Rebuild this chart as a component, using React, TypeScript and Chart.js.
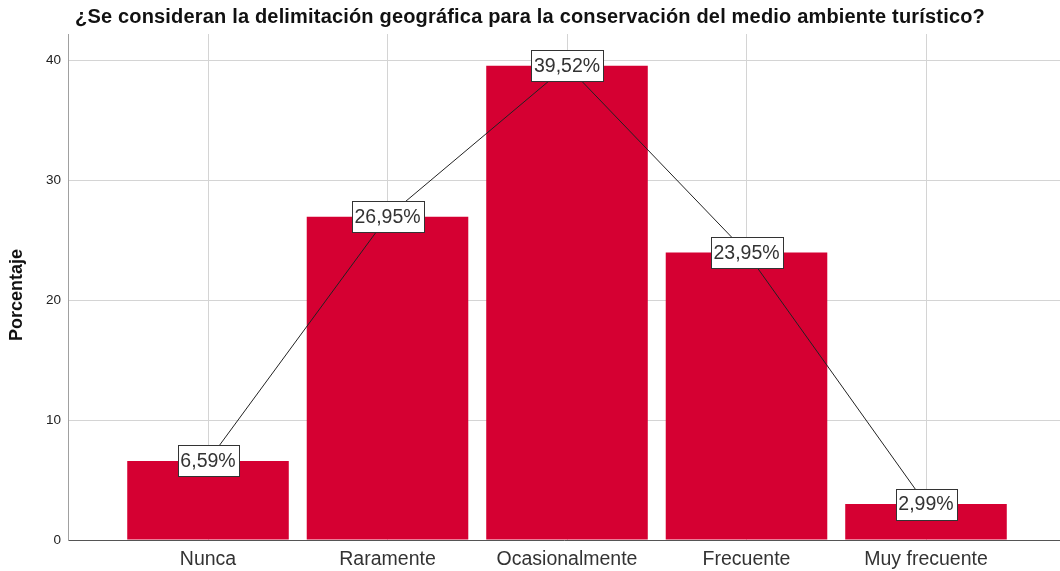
import React, { useEffect, useRef } from "react";
import { Chart, registerables } from "chart.js";

Chart.register(...registerables);

const titleText = "¿Se consideran la delimitación geográfica para la conservación del medio ambiente turístico?";
const yTitle = "Porcentaje";
const categories = ["Nunca", "Raramente", "Ocasionalmente", "Frecuente", "Muy frecuente"];
const percentages = [6.59, 26.95, 39.52, 23.95, 2.99];
const pctLabels = ["6,59%", "26,95%", "39,52%", "23,95%", "2,99%"];
const yTicks = [0, 10, 20, 30, 40];

const FONT = "'Liberation Sans', Arial, sans-serif";

export default function App() {
  const ref = useRef<HTMLCanvasElement | null>(null);
  useEffect(() => {
    document.body.style.margin = "0";
    const canvas = ref.current!;
    const points = percentages.map((v, i) => ({ x: i, y: v }));
    const overlay = {
      id: "overlay",
      afterDatasetsDraw(chart: any) {
        const ctx = chart.ctx;
        const xs = chart.scales.x;
        const ys = chart.scales.y;
        ctx.save();
        ctx.font = `19.5px ${FONT}`;
        ctx.textAlign = "center";
        ctx.textBaseline = "middle";
        percentages.forEach((v, i) => {
          const px = xs.getPixelForValue(i);
          const py = ys.getPixelForValue(v);
          const w = Math.round(ctx.measureText(pctLabels[i]).width + 6);
          const h = 31;
          const bx = Math.round(px - w / 2) + 0.5;
          const by = Math.round(py - h / 2) + 0.5;
          ctx.fillStyle = "#ffffff";
          ctx.fillRect(bx, by, w, h);
          ctx.strokeStyle = "#333333";
          ctx.lineWidth = 1;
          ctx.strokeRect(bx, by, w, h);
          ctx.fillStyle = "#333333";
          ctx.fillText(pctLabels[i], px, py + 1);
        });
        ctx.restore();
      },
      afterDraw(chart: any) {
        const ctx = chart.ctx;
        ctx.save();
        ctx.fillStyle = "#111111";
        ctx.font = `bold 20px ${FONT}`;
        ctx.textAlign = "left";
        ctx.textBaseline = "middle";
        const natural = ctx.measureText(titleText).width;
        const target = 910;
        (ctx as any).letterSpacing = `${Math.max(0, (target - natural) / titleText.length)}px`;
        ctx.fillText(titleText, 75, 17);
        (ctx as any).letterSpacing = "0px";
        ctx.translate(17, 295);
        ctx.rotate(-Math.PI / 2);
        ctx.textAlign = "center";
        ctx.font = `bold 18px ${FONT}`;
        ctx.fillText(yTitle, 0, 0);
        ctx.restore();
      },
    };
    const chart = new Chart(canvas, {
      type: "bar",
      data: {
        datasets: [
          {
            type: "line",
            data: points,
            borderColor: "#222222",
            borderWidth: 1,
            pointRadius: 0,
            fill: false,
            order: 0,
          } as any,
          {
            type: "bar",
            data: points,
            backgroundColor: "#D50032",
            barPercentage: 0.9,
            categoryPercentage: 1,
            order: 1,
          } as any,
        ],
      },
      options: {
        animation: false,
        responsive: false,
        layout: { padding: { top: 34, left: 0, right: 0, bottom: 0 } },
        plugins: { legend: { display: false }, tooltip: { enabled: false } },
        scales: {
          x: {
            type: "linear",
            offset: false,
            min: -0.78,
            max: 4.7465,
            afterBuildTicks: (s: any) => {
              s.ticks = categories.map((_, i) => ({ value: i }));
            },
            afterFit: (s: any) => {
              s.height = 31;
            },
            ticks: {
              callback: (v: any) => categories[v as number] ?? "",
              font: { family: FONT, size: 19.5 },
              color: "#333333",
              padding: 8,
              maxRotation: 0,
              autoSkip: false,
            },
            grid: { color: "#d4d4d4", drawTicks: false, offset: false },
            border: { color: "#555555" },
          },
          y: {
            min: 0,
            max: 42.17,
            afterBuildTicks: (s: any) => {
              s.ticks = yTicks.map((v) => ({ value: v }));
            },
            afterFit: (s: any) => {
              s.width = 68;
            },
            ticks: {
              font: { family: FONT, size: 13.5 },
              color: "#222222",
              padding: 7,
            },
            grid: { color: "#d4d4d4", drawTicks: false },
            border: { color: "#a0a0a0" },
          },
        },
      },
      plugins: [overlay],
    });
    return () => chart.destroy();
  }, []);
  return (
    <div style={{ position: "absolute", left: 0, top: 0, width: 1060, height: 571, background: "#fff" }}>
      <canvas ref={ref} width={1060} height={571} />
    </div>
  );
}
